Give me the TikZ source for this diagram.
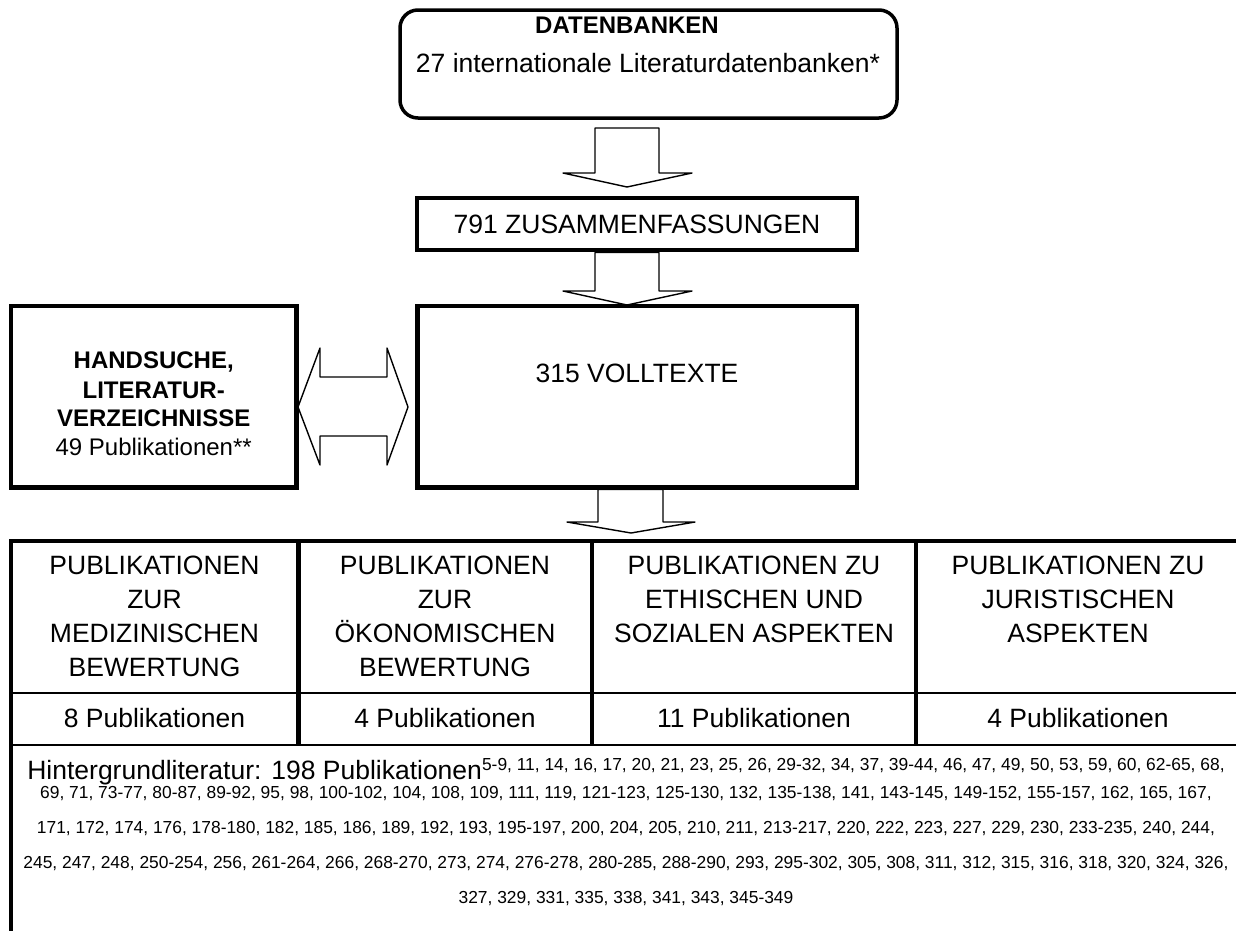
\documentclass[tikz,border=0pt]{standalone}
\usepackage{fontspec}
\setmainfont{Liberation Sans}
\begin{document}
\begin{tikzpicture}[x=1pt,y=-1pt,
  maintext/.style={font={\fontsize{26.5}{30}\selectfont}, inner sep=0pt, anchor=base},
  boldtext/.style={font={\bfseries\fontsize{24}{28}\selectfont}, inner sep=0pt, anchor=base},
  midtext/.style={font={\fontsize{24}{28}\selectfont}, inner sep=0pt, anchor=base},
  reftext/.style={font={\fontsize{17.4}{19}\selectfont}, inner sep=0pt, anchor=base},
  boxframe/.style={draw, line width=4.5pt, inner sep=0pt, minimum width=#1},
  blockarrow/.style={draw, fill=white, line width=1.4pt, line join=round},
  thickline/.style={line width=4.5pt, line join=miter},
  thinline/.style={line width=1.8pt}]
\useasboundingbox (0,0) rectangle (1236,930);

% ---- boxes
\node[draw, line width=3.5pt, rounded corners=18pt, inner sep=0pt,
      minimum width=497pt, minimum height=108pt] (db) at (648.5,64) {};
\node[boxframe=440pt, minimum height=52pt] (zus) at (637,224) {};
\node[boxframe=439.5pt, minimum height=181.5pt] (vt) at (637.2,396.7) {};
\node[boxframe=285.5pt, minimum height=181.5pt] (hs) at (153.7,396.7) {};

% ---- box texts
\node[boldtext] (dbt1) at (627,33.6) {DATENBANKEN};
\node[maintext] (dbt2) at (648,72.5) {27 internationale Literaturdatenbanken*};
\node[maintext] (zust) at (637,233.5) {791 ZUSAMMENFASSUNGEN};
\node[maintext] (vtt) at (637,382.5) {315 VOLLTEXTE};
\node[boldtext] (hst1) at (153.7,368.6) {HANDSUCHE,};
\node[boldtext] (hst2) at (153.7,398.6) {LITERATUR-};
\node[boldtext] (hst3) at (153.7,426.6) {VERZEICHNISSE};
\node[midtext]  (hst4) at (153.7,455.6) {49 Publikationen**};

% ---- block arrows
\draw[blockarrow] (595,128) -- (659,128) -- (659,173) -- (692,173) -- (627,187)
      -- (563,173) -- (595,173) -- cycle;
\draw[blockarrow] (595,252.5) -- (659,252.5) -- (659,291) -- (692,291) -- (627,305)
      -- (563,291) -- (595,291) -- cycle;
\draw[blockarrow] (598,489.5) -- (663,489.5) -- (663,522) -- (695,522) -- (631,533)
      -- (567,522) -- (598,522) -- cycle;
\draw[blockarrow] (298,407) -- (320,348) -- (320,377) -- (387,377) -- (387,348)
      -- (408,407) -- (387,465) -- (387,436) -- (320,436) -- (320,465) -- cycle;

% ---- table
\coordinate (tBL) at (11,932);
\coordinate (tTL) at (11,541);
\coordinate (tTR) at (1238,541);
\coordinate (c1t) at (298.5,541); \coordinate (c1b) at (298.5,745);
\coordinate (c2t) at (592,541);   \coordinate (c2b) at (592,745);
\coordinate (c3t) at (916,541);   \coordinate (c3b) at (916,745);
\coordinate (r1l) at (11,693);    \coordinate (r1r) at (1238,693);
\coordinate (r2l) at (11,745);    \coordinate (r2r) at (1238,745);
\draw[thickline] (tBL) -- (tTL) -- (tTR);
\draw[thickline] (c1t) -- (c1b);
\draw[thickline] (c2t) -- (c2b);
\draw[thickline] (c3t) -- (c3b);
\draw[thinline] (r1l) -- (r1r);
\draw[thinline] (r2l) -- (r2r);

% ---- header texts
\node[maintext] (a1) at (154.5,574.5) {PUBLIKATIONEN};
\node[maintext] (a2) at (154.5,608.5) {ZUR};
\node[maintext] (a3) at (154.5,642.5) {MEDIZINISCHEN};
\node[maintext] (a4) at (154.5,676.5) {BEWERTUNG};
\node[maintext] (b1) at (445,574.5) {PUBLIKATIONEN};
\node[maintext] (b2) at (445,608.5) {ZUR};
\node[maintext] (b3) at (445,642.5) {ÖKONOMISCHEN};
\node[maintext] (b4) at (445,676.5) {BEWERTUNG};
\node[maintext] (c1) at (754,574.5) {PUBLIKATIONEN ZU};
\node[maintext] (c2) at (754,608.5) {ETHISCHEN UND};
\node[maintext] (c3) at (754,642.5) {SOZIALEN ASPEKTEN};
\node[maintext] (d1) at (1078,574.5) {PUBLIKATIONEN ZU};
\node[maintext] (d2) at (1078,608.5) {JURISTISCHEN};
\node[maintext] (d3) at (1078,642.5) {ASPEKTEN};

% ---- counts
\node[maintext] (na) at (154.5,727.5) {8 Publikationen};
\node[maintext] (nb) at (445,727.5) {4 Publikationen};
\node[maintext] (nc) at (754,727.5) {11 Publikationen};
\node[maintext] (nd) at (1078,727.5) {4 Publikationen};

% ---- background literature
\node[maintext] (h1) at (626,779.5) {Hintergrundliteratur: 198 Publikationen\raisebox{9pt}{\fontsize{17.4}{19}\selectfont 5-9, 11, 14, 16, 17, 20, 21, 23, 25, 26, 29-32, 34, 37, 39-44, 46, 47, 49, 50, 53, 59, 60, 62-65, 68,}};
\node[reftext] (h2) at (626,798.5) {69, 71, 73-77, 80-87, 89-92, 95, 98, 100-102, 104, 108, 109, 111, 119, 121-123, 125-130, 132, 135-138, 141, 143-145, 149-152, 155-157, 162, 165, 167,};
\node[reftext] (h3) at (626,833) {171, 172, 174, 176, 178-180, 182, 185, 186, 189, 192, 193, 195-197, 200, 204, 205, 210, 211, 213-217, 220, 222, 223, 227, 229, 230, 233-235, 240, 244,};
\node[reftext] (h4) at (626,868) {245, 247, 248, 250-254, 256, 261-264, 266, 268-270, 273, 274, 276-278, 280-285, 288-290, 293, 295-302, 305, 308, 311, 312, 315, 316, 318, 320, 324, 326,};
\node[reftext] (h5) at (626,903) {327, 329, 331, 335, 338, 341, 343, 345-349};
\end{tikzpicture}
\end{document}
